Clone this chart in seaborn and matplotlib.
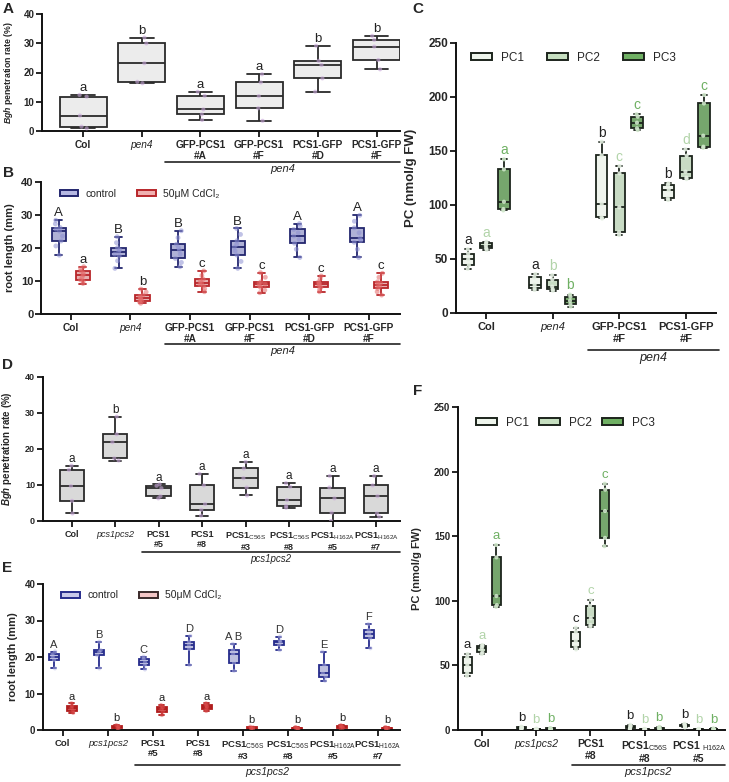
import numpy as np
import pandas as pd
import matplotlib
matplotlib.use("Agg")
import matplotlib.pyplot as plt
import matplotlib.transforms as mtrans
from matplotlib.patches import Patch
import seaborn as sns

sns.set_style("ticks")
plt.rcParams["font.family"] = ["Liberation Sans", "DejaVu Sans"]
plt.rcParams["mathtext.fontset"] = "custom"
plt.rcParams["mathtext.rm"] = "Liberation Sans"
plt.rcParams["mathtext.it"] = "Liberation Sans:italic:bold"
plt.rcParams["mathtext.bf"] = "Liberation Sans:bold"
plt.rcParams["axes.linewidth"] = 1.4
plt.rcParams["axes.edgecolor"] = "#111111"
plt.rcParams["xtick.major.width"] = 1.4
plt.rcParams["ytick.major.width"] = 1.4
plt.rcParams["xtick.major.size"] = 4
plt.rcParams["ytick.major.size"] = 4
plt.rcParams["xtick.major.pad"] = 2.5
plt.rcParams["ytick.major.pad"] = 1.5

# ---------------- data ----------------
# A: Bgh penetration rate (%) in pen4 lines  (min, q1, median, q3, max)
a_groups = ["Col", "pen4", "GFP-PCS1\n#A", "GFP-PCS1\n#F", "PCS1-GFP\n#D", "PCS1-GFP\n#F"]
a_vals = [
    [0.8, 1.4, 5.2, 11.7, 12.3],
    [16.3, 16.8, 23.2, 30.0, 32.0],
    [3.7, 5.6, 7.3, 12.0, 13.4],
    [3.4, 7.7, 11.9, 16.6, 19.4],
    [13.4, 18.0, 22.6, 24.0, 29.2],
    [21.1, 24.3, 28.9, 31.2, 32.6],
]
a_letters = ["a", "b", "a", "a", "b", "b"]

# B: root length (mm), control vs 50uM CdCl2
b_control = [
    [17.7, 20.5, 22.0, 23.5, 25.0, 25.6, 26.1, 27.2, 28.3],
    [13.7, 16.0, 17.4, 18.0, 18.7, 19.3, 20.0, 21.5, 23.3],
    [14.2, 15.5, 16.7, 18.0, 19.2, 20.0, 21.0, 23.0, 25.1],
    [13.7, 15.8, 17.7, 19.0, 20.1, 21.0, 22.1, 24.0, 25.8],
    [17.0, 19.5, 21.3, 22.5, 23.5, 24.5, 25.5, 26.5, 27.3],
    [17.0, 19.5, 21.6, 22.2, 22.8, 24.5, 26.0, 28.0, 29.8],
]
b_cd = [
    [9.1, 9.8, 10.2, 11.0, 11.7, 12.3, 12.9, 13.6, 14.2],
    [3.1, 3.5, 3.9, 4.3, 4.8, 5.2, 5.6, 6.5, 7.4],
    [6.6, 7.5, 8.3, 8.8, 9.3, 9.8, 10.4, 11.5, 12.9],
    [6.3, 7.1, 7.9, 8.4, 8.9, 9.2, 9.6, 11.0, 12.4],
    [6.6, 7.3, 7.9, 8.4, 8.9, 9.2, 9.6, 10.5, 11.4],
    [5.6, 6.6, 7.6, 8.2, 8.8, 9.2, 9.6, 11.0, 12.2],
]
b_letters_control = ["A", "B", "B", "B", "A", "A"]
b_letters_cd = ["a", "b", "c", "c", "c", "c"]

# C: PC content (nmol/g FW)
c_groups = ["Col", "pen4", "GFP-PCS1\n#F", "PCS1-GFP\n#F"]
c_pc1 = [[41, 44.4, 49.7, 55, 59], [21.3, 23, 26, 33, 36],
         [87.5, 88.6, 101, 146, 158.6], [104.6, 106.2, 113.9, 118.5, 120]]
c_pc2 = [[58.5, 60, 62.3, 64.5, 66], [20.7, 22, 24.4, 31, 35],
         [72.2, 74.7, 97.8, 129.3, 136], [124, 125.3, 130.9, 145.7, 151.5]]
c_pc3 = [[95, 96.3, 103, 133, 142.3], [6, 8.3, 11.4, 15, 17],
         [169.4, 171, 176.2, 181.8, 184], [153, 154, 164.2, 194, 201.9]]
c_letters = {"PC1": ["a", "a", "b", "b"], "PC2": ["a", "b", "c", "d"], "PC3": ["a", "b", "c", "c"]}

# D: Bgh penetration rate (%) in pcs1pcs2 lines
d_groups = ["Col", "pcs1pcs2", "PCS1\n#5", "PCS1\n#8",
            "PCS1$_{\\mathrm{C56S}}$\n#3", "PCS1$_{\\mathrm{C56S}}$\n#8",
            "PCS1$_{\\mathrm{H162A}}$\n#5", "PCS1$_{\\mathrm{H162A}}$\n#7"]
d_vals = [
    [2.1, 5.6, 9.7, 14.2, 15.4],
    [16.8, 17.4, 21.9, 24.1, 29.0],
    [6.3, 6.9, 9.1, 9.8, 10.2],
    [1.5, 3.1, 4.7, 9.9, 13.1],
    [7.1, 9.3, 11.9, 14.6, 16.4],
    [3.7, 4.2, 5.8, 9.5, 10.5],
    [0.0, 2.3, 6.3, 9.3, 12.5],
    [1.2, 2.1, 6.9, 9.9, 12.5],
]
d_letters = ["a", "b", "a", "a", "a", "a", "a", "a"]

# E: root length (mm) in pcs1pcs2 lines
e_control = [
    [16.9, 19.2, 20.1, 20.7, 21.5],
    [16.9, 20.5, 21.3, 21.9, 24.2],
    [16.6, 17.8, 18.5, 19.4, 20.1],
    [17.8, 22.2, 23.4, 24.2, 25.8],
    [16.2, 18.4, 20.8, 21.9, 23.6],
    [21.9, 23.3, 24.0, 24.5, 25.6],
    [13.5, 14.6, 15.5, 17.8, 21.5],
    [22.4, 25.1, 26.3, 27.4, 29.0],
]
e_cd = [
    [4.7, 5.3, 6.0, 6.6, 7.3],
    [0.3, 0.5, 0.8, 1.1, 1.3],
    [4.1, 5.0, 5.7, 6.2, 6.8],
    [5.2, 5.8, 6.4, 6.8, 7.3],
    [0.2, 0.4, 0.5, 0.7, 0.9],
    [0.2, 0.3, 0.5, 0.6, 0.8],
    [0.5, 0.6, 0.9, 1.1, 1.3],
    [0.2, 0.3, 0.5, 0.6, 0.8],
]
e_letters_control = ["A", "B", "C", "D", "A B", "D", "E", "F"]
e_letters_cd = ["a", "b", "a", "a", "b", "b", "b", "b"]

# F: PC content (nmol/g FW) in pcs1pcs2 lines
f_groups = ["Col", "pcs1pcs2", "PCS1\n#8", "PCS1$_{\\mathrm{C56S}}$\n#8", "PCS1 $_{\\mathrm{H162A}}$\n#5"]
f_pc1 = [[41.8, 43.9, 50.3, 56.2, 58.8], [0.8, 1.2, 1.6, 2.1, 2.6], [62.4, 64.5, 68.9, 76.1, 79.2],
         [0.5, 1.2, 2.0, 3.0, 4.0], [2.0, 2.8, 3.5, 4.2, 4.8]]
f_pc2 = [[58.8, 60, 63.5, 65, 65.8], [0.2, 0.4, 0.6, 0.8, 1.0], [80, 81.3, 86.4, 96.2, 100.6],
         [0.2, 0.3, 0.5, 0.7, 0.9], [0.2, 0.3, 0.5, 0.7, 0.9]]
f_pc3 = [[95.4, 96.7, 103.7, 133.6, 143.2], [0.3, 0.6, 0.9, 1.2, 1.5], [142.3, 148.7, 169.5, 186, 190.6],
         [0.4, 0.8, 1.2, 1.8, 2.4], [0.2, 0.4, 0.6, 0.9, 1.2]]
f_letters = {"PC1": ["a", "b", "c", "b", "b"], "PC2": ["a", "b", "c", "b", "b"], "PC3": ["a", "b", "c", "b", "b"]}

# ---------------- styles ----------------
pc_fill = {"PC1": "#eef5ec", "PC2": "#c6dfc0", "PC3": "#6fb063"}
pc_text = {"PC1": "#222222", "PC2": "#b2d4a9", "PC3": "#6fb063"}
pc_dot = {"PC1": "#e4efe1", "PC2": "#e4efe1", "PC3": "#cfe6ca"}
CD = "50\u03bcM CdCl\u2082"

W, H = 729, 782
fig = plt.figure(figsize=(W / 100, H / 100), dpi=100)


def px_axes(l, t, r, b):
    return fig.add_axes([l / W, 1 - b / H, (r - l) / W, (b - t) / H])


def long_df(groups, series):
    rows = []
    for hue, vals in series.items():
        for g, v in zip(groups, vals):
            for x in v:
                rows.append((g, hue, x))
    return pd.DataFrame(rows, columns=["group", "cond", "value"])


def boxes(ax, df, groups, hues, fills, edges, dots, gap, dot_size=3, dot_alpha=0.6, jitter=0.08, lw=1.3):
    for h in hues:
        sub = df[df.cond == h]
        sns.boxplot(data=sub, x="group", y="value", hue="cond", order=groups, hue_order=hues,
                    palette=fills, dodge=True, width=0.8, gap=gap, whis=(0, 100), showfliers=False,
                    linecolor=edges[h], linewidth=lw, legend=False, ax=ax)
        sns.stripplot(data=sub, x="group", y="value", hue="cond", order=groups, hue_order=hues,
                      palette=dots, dodge=True, jitter=jitter, size=dot_size, alpha=dot_alpha,
                      linewidth=0, legend=False, ax=ax, zorder=5)


def letters(ax, groups, hues, vals_by_hue, letters_by_hue, colors, pad, size=9):
    n = len(hues)
    for k, h in enumerate(hues):
        off = -0.4 + 0.8 / n * (k + 0.5)
        for i, g in enumerate(groups):
            ax.text(i + off, max(vals_by_hue[h][i]) + pad, letters_by_hue[h][i],
                    ha="center", va="bottom", fontsize=size, color=colors[h])


def style(ax, groups, italic, xsize, ysize, ylabel, ylsize, ylx, ylim, yticks, xlim):
    ax.set_xlim(*xlim)
    ax.set_ylim(*ylim)
    ax.set_yticks(yticks)
    ax.set_xticks(range(len(groups)))
    ax.set_xticklabels(groups, fontsize=xsize, fontweight="bold", linespacing=1.2)
    for t in ax.get_xticklabels():
        if t.get_text() in italic:
            t.set_fontstyle("italic")
            t.set_fontweight("normal")
    for t in ax.get_yticklabels():
        t.set_fontweight("bold")
        t.set_fontsize(ysize)
    ax.set_xlabel("")
    ax.set_ylabel(ylabel, fontsize=ylsize, fontweight="bold")
    ax.yaxis.set_label_coords(ylx, 0.5)
    sns.despine(ax=ax)


def bracket(ax, x0, x1, y_line, label, size):
    tr = mtrans.blended_transform_factory(ax.transData, fig.transFigure)
    ax.plot([x0, x1], [1 - y_line / H] * 2, transform=tr, color="#222222", lw=1.2, clip_on=False)
    ax.text((x0 + x1) / 2, 1 - (y_line + 2) / H, label, transform=tr, ha="center", va="top",
            fontsize=size, style="italic")


def legend(ax, labels, fills, edges, anchor, size, spacing=1.6):
    handles = [Patch(facecolor=fills[i], edgecolor=edges[i], linewidth=1.4, label=labels[i])
               for i in range(len(labels))]
    ax.legend(handles=handles, loc="upper left", bbox_to_anchor=anchor, ncol=len(labels),
              frameon=False, fontsize=size, handlelength=1.8, handleheight=0.5,
              handletextpad=0.7, columnspacing=spacing, borderaxespad=0)


# ---------------- A ----------------
axA = px_axes(42, 14.3, 400, 130.7)
dfA = long_df(a_groups, {"all": a_vals})
boxes(axA, dfA, a_groups, ["all"], {"all": "#ececec"}, {"all": "#2a2a2a"}, {"all": "#c7a6d8"}, gap=0)
letters(axA, a_groups, ["all"], {"all": a_vals}, {"all": a_letters}, {"all": "#222222"}, 0.3, size=9.5)
style(axA, a_groups, ["pen4"], 7.3, 7, "$\\it{Bgh}$ penetration rate (%)", 6.3, -0.075,
      (0, 40), [0, 10, 20, 30, 40], (-0.7, 5.4))
bracket(axA, 1.4, 5.4, 162, "pen4", 8)

# ---------------- B ----------------
axB = px_axes(41, 181.7, 400, 313.5)
b_hues = ["control", CD]
dfB = long_df(a_groups, {"control": b_control, CD: b_cd})
boxes(axB, dfB, a_groups, b_hues, {"control": "#a9abdc", CD: "#f0a8a8"},
      {"control": "#23266e", CD: "#b8262a"}, {"control": "#8d90d2", CD: "#e46a6a"},
      gap=0.4, dot_size=3.5, dot_alpha=0.55, jitter=0.13)
letters(axB, a_groups, b_hues, {"control": b_control, CD: b_cd},
        {"control": b_letters_control, CD: b_letters_cd}, {"control": "#222222", CD: "#222222"}, 0.3, size=9.5)
style(axB, a_groups, ["pen4"], 7.3, 8, "root length (mm)", 8, -0.072,
      (0, 40), [0, 10, 20, 30, 40], (-0.5, 5.52))
legend(axB, ["control", CD], ["#b6b8e3", "#f0b0b0"], ["#23266e", "#b8262a"], (0.04, 0.98), 7.5, spacing=2.0)
bracket(axB, 1.58, 5.52, 344, "pen4", 8)

# ---------------- C ----------------
axC = px_axes(456, 43, 716, 313)
pcs = ["PC1", "PC2", "PC3"]
dfC = long_df(c_groups, {"PC1": c_pc1, "PC2": c_pc2, "PC3": c_pc3})
boxes(axC, dfC, c_groups, pcs, pc_fill, {p: "#1c241c" for p in pcs}, pc_dot, gap=0.35,
      dot_size=3, dot_alpha=0.9, jitter=0.03, lw=1.3)
letters(axC, c_groups, pcs, {"PC1": c_pc1, "PC2": c_pc2, "PC3": c_pc3}, c_letters, pc_text, 2, size=10)
style(axC, c_groups, ["pen4"], 8, 8.5, "PC (nmol/g FW)", 9.5, -0.15,
      (0, 250), [0, 50, 100, 150, 200, 250], (-0.45, 3.45))
legend(axC, pcs, [pc_fill[p] for p in pcs], ["#1c241c"] * 3, (0.04, 0.985), 8.5, spacing=2.0)
bracket(axC, 1.53, 3.5, 350, "pen4", 9)

# ---------------- D ----------------
axD = px_axes(42.7, 377, 400, 521)
dfD = long_df(d_groups, {"all": d_vals})
boxes(axD, dfD, d_groups, ["all"], {"all": "#d9d9d9"}, {"all": "#2a2a2a"}, {"all": "#c7a6d8"}, gap=0.3)
letters(axD, d_groups, ["all"], {"all": d_vals}, {"all": d_letters}, {"all": "#222222"}, 0.2, size=8.5)
style(axD, d_groups, ["pcs1pcs2"], 6.5, 6.5, "$\\it{Bgh}$ penetration rate (%)", 7, -0.08,
      (0, 40), [0, 10, 20, 30, 40], (-0.667, 7.55))
bracket(axD, 1.62, 7.55, 552, "pcs1pcs2", 7)

# ---------------- E ----------------
axE = px_axes(43, 584, 400, 730)
dfE = long_df(d_groups, {"control": e_control, CD: e_cd})
boxes(axE, dfE, d_groups, b_hues, {"control": "#b9bbe3", CD: "#d83838"},
      {"control": "#262c8c", CD: "#b01c1c"}, {"control": "#b3b5e4", CD: "#e05050"},
      gap=0.45, dot_size=3, dot_alpha=0.5, jitter=0.08)
letters(axE, d_groups, b_hues, {"control": e_control, CD: e_cd},
        {"control": e_letters_control, CD: e_letters_cd}, {"control": "#333333", CD: "#222222"}, 0.5, size=8)
style(axE, d_groups, ["pcs1pcs2"], 6.8, 7, "root length (mm)", 8, -0.07,
      (0, 40), [0, 10, 20, 30, 40], (-0.44, 7.49))
legend(axE, ["control", CD], ["#c8c9ea", "#f4c6c6"], ["#262c8c", "#3a2a2a"], (0.04, 0.985), 7.5, spacing=2.0)
bracket(axE, 1.6, 7.49, 765, "pcs1pcs2", 7.5)

# ---------------- F ----------------
axF = px_axes(458, 407, 725, 730)
dfF = long_df(f_groups, {"PC1": f_pc1, "PC2": f_pc2, "PC3": f_pc3})
boxes(axF, dfF, f_groups, pcs, pc_fill, {p: "#1c241c" for p in pcs}, pc_dot, gap=0.38,
      dot_size=3, dot_alpha=0.9, jitter=0.03, lw=1.3)
letters(axF, f_groups, pcs, {"PC1": f_pc1, "PC2": f_pc2, "PC3": f_pc3}, f_letters, pc_text, 2, size=9.5)
style(axF, f_groups, ["pcs1pcs2"], 7.5, 7, "PC (nmol/g FW)", 8, -0.135,
      (0, 250), [0, 50, 100, 150, 200, 250], (-0.44, 4.48))
legend(axF, pcs, [pc_fill[p] for p in pcs], ["#1c241c"] * 3, (0.05, 0.985), 8.5, spacing=0.9)
bracket(axF, 1.66, 4.48, 765, "pcs1pcs2", 8)

# panel letters
for lab, x, y in [("A", 3, 2), ("B", 3, 166), ("C", 412, 2), ("D", 2, 358), ("E", 2, 561), ("F", 413, 384)]:
    fig.text(x / W, 1 - y / H, lab, fontsize=11, fontweight="bold", va="top", ha="left")

fig.savefig("out.png", dpi=100)
